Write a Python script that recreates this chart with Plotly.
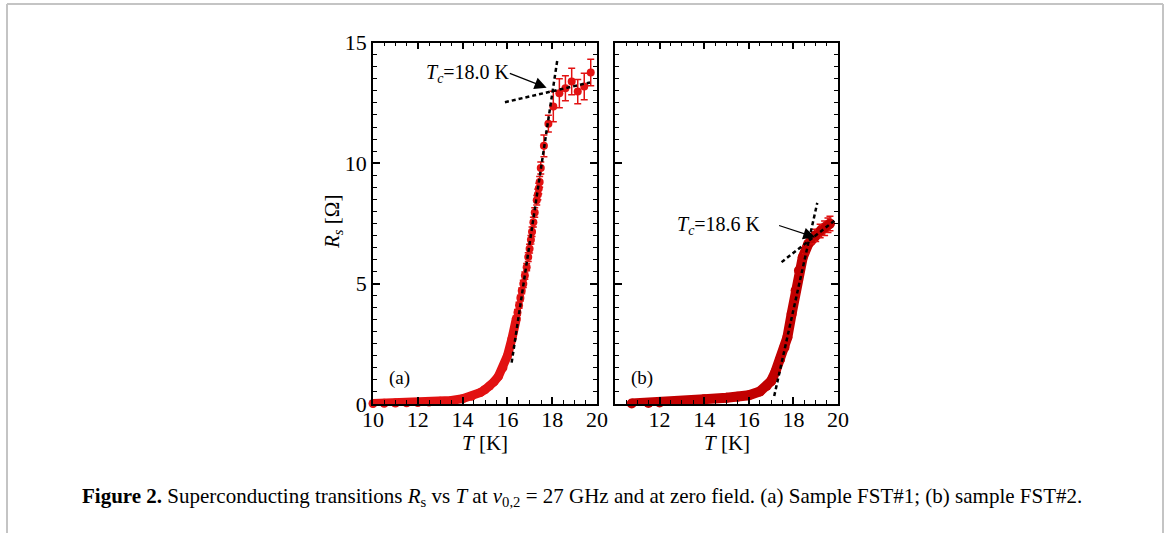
import plotly.graph_objects as go

# ---------------- data ----------------
# Panel (a): dense continuous part
a_band_T = [10.0, 10.5, 11.0, 11.5, 12.0, 12.5, 13.0, 13.5, 14.0, 14.4, 14.8, 15.0,
            15.2, 15.4, 15.6, 15.8, 16.0, 16.2, 16.4]
a_band_R = [0.02, 0.03, 0.04, 0.05, 0.06, 0.08, 0.11, 0.15, 0.22, 0.32, 0.48, 0.60,
            0.74, 0.92, 1.15, 1.50, 2.00, 2.70, 3.55]
# Panel (a): individual points with error bars
a_pts_T = [16.45, 16.52, 16.58, 16.64, 16.71, 16.78, 16.86, 16.93, 16.99, 17.05, 17.10,
           17.16, 17.22, 17.31, 17.36, 17.40, 17.44, 17.49, 17.63, 17.83, 18.05, 18.32,
           18.59, 18.87, 19.14, 19.43, 19.72]
a_pts_R = [3.80, 4.10, 4.40, 4.70, 4.99, 5.33, 5.68, 6.10, 6.45, 6.82, 7.15,
           7.55, 7.95, 8.46, 8.70, 8.95, 9.22, 9.80, 10.72, 11.64, 12.35, 12.90,
           13.11, 13.39, 12.97, 13.18, 13.76]
a_pts_err = [0.12, 0.12, 0.12, 0.12, 0.15, 0.15, 0.15, 0.18, 0.18, 0.18, 0.2,
             0.2, 0.2, 0.2, 0.22, 0.22, 0.22, 0.25, 0.45, 0.35, 0.63, 0.6,
             0.52, 0.55, 0.5, 0.55, 0.55]
a_fit_steep_T = [16.19, 18.23]
a_fit_steep_R = [1.72, 14.29]
a_fit_flat_T = [15.89, 19.69]
a_fit_flat_R = [12.53, 13.35]

# Panel (b): dense continuous part
b_band_T = [10.75, 11.5, 12.0, 13.0, 14.0, 15.0, 15.5, 16.0, 16.5, 16.8, 17.0, 17.2,
            17.4, 17.6, 17.73, 17.92, 18.10, 18.25, 18.42, 18.67, 18.97, 19.27, 19.64]
b_band_R = [0.02, 0.04, 0.06, 0.12, 0.20, 0.26, 0.30, 0.36, 0.52, 0.75, 0.95, 1.35,
            1.85, 2.35, 2.77, 3.74, 4.71, 5.54, 6.09, 6.65, 7.00, 7.24, 7.49]
b_pts_T = [18.25, 18.55, 18.80, 19.00, 19.20, 19.40, 19.55, 19.64]
b_pts_R = [5.54, 6.40, 6.85, 7.00, 7.18, 7.30, 7.42, 7.49]
b_pts_err = [0.12, 0.15, 0.2, 0.25, 0.28, 0.3, 0.3, 0.3]
b_fit_steep_T = [17.14, 19.07]
b_fit_steep_R = [0.33, 8.35]
b_fit_flat_T = [17.47, 19.87]
b_fit_flat_R = [5.89, 7.63]

x_ticks_a = [10, 12, 14, 16, 18, 20]
x_ticks_b = [12, 14, 16, 18, 20]
y_ticks = [0, 5, 10, 15]

RED_A = "#e21212"
RED_B = "#c20000"
FONT = "Liberation Serif"

W, H = 1167, 533
def px(x):
    return x / W
def py(y):
    return 1 - y / H

fig = go.Figure()

# ---- panel (a)
fig.add_trace(go.Scatter(x=a_band_T, y=a_band_R, mode="lines+markers",
                         line=dict(color=RED_A, width=9), marker=dict(color=RED_A, size=9),
                         cliponaxis=False, xaxis="x", yaxis="y", showlegend=False))
fig.add_trace(go.Scatter(x=a_pts_T, y=a_pts_R, mode="markers",
                         marker=dict(color=RED_A, size=8),
                         error_y=dict(type="data", array=a_pts_err, color=RED_A, thickness=1.5, width=3.5),
                         cliponaxis=False, xaxis="x", yaxis="y", showlegend=False))
for tt, rr in [(a_fit_steep_T, a_fit_steep_R), (a_fit_flat_T, a_fit_flat_R)]:
    fig.add_trace(go.Scatter(x=tt, y=rr, mode="lines",
                             line=dict(color="black", width=2.5, dash="4px,3px"),
                             cliponaxis=False, xaxis="x", yaxis="y", showlegend=False))

# ---- panel (b)
fig.add_trace(go.Scatter(x=b_band_T, y=b_band_R, mode="lines+markers",
                         line=dict(color=RED_B, width=10), marker=dict(color=RED_B, size=10),
                         cliponaxis=False, xaxis="x2", yaxis="y2", showlegend=False))
fig.add_trace(go.Scatter(x=b_pts_T, y=b_pts_R, mode="markers",
                         marker=dict(color=RED_B, size=9),
                         error_y=dict(type="data", array=b_pts_err, color="#e01010", thickness=1.5, width=3.5),
                         cliponaxis=False, xaxis="x2", yaxis="y2", showlegend=False))
for tt, rr in [(b_fit_steep_T, b_fit_steep_R), (b_fit_flat_T, b_fit_flat_R)]:
    fig.add_trace(go.Scatter(x=tt, y=rr, mode="lines",
                             line=dict(color="black", width=2.5, dash="4px,3px"),
                             cliponaxis=False, xaxis="x2", yaxis="y2", showlegend=False))

axis_common = dict(showline=True, linecolor="black", linewidth=1.5, mirror="allticks",
                   ticks="inside", ticklen=7, tickwidth=1.5, tickcolor="black",
                   showgrid=False, zeroline=False,
                   tickfont=dict(family=FONT, size=22, color="black"))
minor_x = dict(ticks="inside", ticklen=4, tickwidth=1.2, tickcolor="black", dtick=0.5, tick0=10, showgrid=False)
minor_y = dict(ticks="inside", ticklen=4, tickwidth=1.2, tickcolor="black", dtick=0.5, tick0=0, showgrid=False)

ydom = [py(404), py(42.7)]
fig.update_layout(
    width=W, height=H, margin=dict(l=0, r=0, t=0, b=0, autoexpand=False),
    paper_bgcolor="white", plot_bgcolor="white",
    xaxis=dict(domain=[px(373), px(597)], range=[10, 20], tickvals=x_ticks_a, minor=minor_x,
               anchor="y", ticklabelstandoff=-5, **axis_common),
    yaxis=dict(domain=ydom, range=[0, 15], tickvals=y_ticks, minor=minor_y,
               anchor="x", **axis_common),
    xaxis2=dict(domain=[px(615), px(838)], range=[10, 20], tickvals=x_ticks_b, minor=minor_x,
                anchor="y2", ticklabelstandoff=-5, **axis_common),
    yaxis2=dict(domain=ydom, range=[0, 15], tickvals=y_ticks, minor=minor_y,
                showticklabels=False, anchor="x2", **axis_common),
)

ann_font = dict(family=FONT, size=21, color="black")
C = dict(xanchor="center", yanchor="middle", showarrow=False)
annotations = [
    # axis titles
    dict(x=px(485), y=py(443), xref="paper", yref="paper", text="<i>T</i> [K]", font=ann_font, **C),
    dict(x=px(727), y=py(443), xref="paper", yref="paper", text="<i>T</i> [K]", font=ann_font, **C),
    dict(x=px(333), y=py(222), xref="paper", yref="paper", textangle=-90,
         text="<i>R</i><sub><i>s</i></sub> [Ω]", font=ann_font, **C),
    # panel labels
    dict(x=11.2, y=1.07, xref="x", yref="y", text="(a)",
         font=dict(family=FONT, size=19, color="black"), **C),
    dict(x=11.2, y=1.07, xref="x2", yref="y2", text="(b)",
         font=dict(family=FONT, size=19, color="black"), **C),
    # Tc labels
    dict(x=14.22, y=13.74, xref="x", yref="y",
         text="<i>T</i><sub><i>c</i></sub>=18.0 K", font=dict(family=FONT, size=20, color="black"), **C),
    dict(x=14.66, y=7.43, xref="x2", yref="y2",
         text="<i>T</i><sub><i>c</i></sub>=18.6 K", font=dict(family=FONT, size=20, color="black"), **C),
    # arrows
    dict(x=17.75, y=13.13, xref="x", yref="y", ax=16.04, ay=13.75, axref="x", ayref="y",
         text="", showarrow=True, arrowhead=2, arrowsize=2, arrowwidth=1.2, arrowcolor="black"),
    dict(x=18.98, y=6.92, xref="x2", yref="y2", ax=17.29, ay=7.43, axref="x2", ayref="y2",
         text="", showarrow=True, arrowhead=2, arrowsize=2, arrowwidth=1.2, arrowcolor="black"),
    # caption
    dict(x=px(80), y=py(497), xref="paper", yref="paper", xanchor="left", yanchor="middle",
         showarrow=False,
         text="<b>Figure 2.</b> Superconducting transitions <i>R</i><sub>s</sub> vs <i>T</i> at "
              "<i>ν</i><sub>0,2</sub> = 27 GHz and at zero field. (a) Sample FST#1; (b) sample FST#2.",
         font=dict(family=FONT, size=21, color="black")),
]
fig.update_layout(annotations=annotations)

# page frame (light grey)
frame = dict(type="line", xref="paper", yref="paper", line=dict(color="#c4c4c4", width=2))
fig.update_layout(shapes=[
    dict(frame, x0=px(7), x1=px(1163), y0=py(4), y1=py(4)),
    dict(frame, x0=px(7), x1=px(7), y0=py(4), y1=0),
    dict(frame, x0=px(1163), x1=px(1163), y0=py(4), y1=0),
])

fig.write_html("out.html",
               post_script="document.documentElement.style.margin='0';"
                           "document.body.style.margin='0';"
                           "document.body.style.overflow='hidden';")
